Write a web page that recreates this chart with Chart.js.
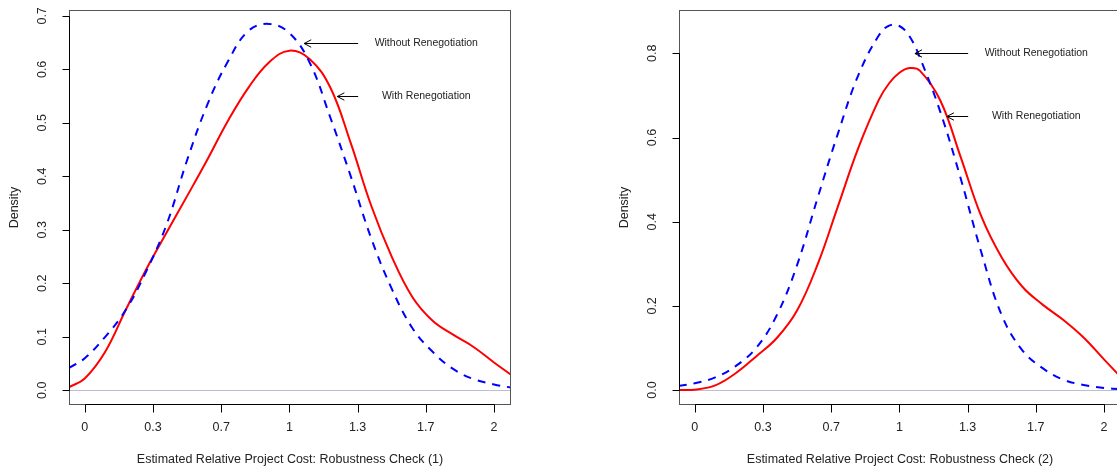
<!DOCTYPE html>
<html>
<head>
<meta charset="utf-8">
<script src="https://cdn.jsdelivr.net/npm/chart.js@4"></script>
<style>
  html, body { margin: 0; padding: 0; background: #fff; overflow: hidden; width: 1117px; height: 468px; }
  canvas { position: absolute; top: 0; }
  #c1 { left: 0; }
  #c2 { left: 558px; }
</style>
</head>
<body>
<canvas id="c1" width="558" height="468"></canvas>
<canvas id="c2" width="610" height="468"></canvas>
<script>
// values
const xs1 = [-0.076, 0, 0.1, 0.2, 0.3, 0.4, 0.5, 0.6, 0.7, 0.8, 0.9, 1.0, 1.1, 1.2, 1.3, 1.4, 1.5, 1.6, 1.7, 1.8, 1.9, 2.0, 2.083];
const with1 = [0.006, 0.022, 0.072, 0.15, 0.226, 0.295, 0.363, 0.432, 0.504, 0.566, 0.613, 0.635, 0.619, 0.566, 0.462, 0.345, 0.25, 0.175, 0.13, 0.104, 0.081, 0.052, 0.029];
const without1 = [0.042, 0.06, 0.1, 0.15, 0.222, 0.31, 0.43, 0.535, 0.615, 0.672, 0.685, 0.668, 0.612, 0.51, 0.40, 0.284, 0.19, 0.117, 0.072, 0.04, 0.021, 0.011, 0.005];

const xs2 = [-0.078, 0, 0.1, 0.2, 0.3, 0.4, 0.5, 0.6, 0.7, 0.8, 0.9, 0.95, 1.0, 1.05, 1.1, 1.2, 1.3, 1.4, 1.5, 1.6, 1.7, 1.8, 1.9, 2.0, 2.083];
const with2 = [0.0, 0.001, 0.011, 0.04, 0.08, 0.123, 0.189, 0.298, 0.437, 0.576, 0.69, 0.729, 0.754, 0.765, 0.759, 0.688, 0.553, 0.413, 0.315, 0.246, 0.203, 0.167, 0.125, 0.073, 0.03];
const without2 = [0.010, 0.016, 0.03, 0.057, 0.10, 0.177, 0.297, 0.456, 0.61, 0.749, 0.843, 0.866, 0.865, 0.84, 0.79, 0.661, 0.502, 0.328, 0.178, 0.095, 0.052, 0.025, 0.012, 0.005, 0.002];

const xTicks = [0, 1/3, 2/3, 1, 4/3, 5/3, 2];
const xTickLabels = ["0", "0.3", "0.7", "1", "1.3", "1.7", "2"];
const yTicks1 = [0, 0.1, 0.2, 0.3, 0.4, 0.5, 0.6, 0.7];
const yTicks2 = [0, 0.2, 0.4, 0.6, 0.8];

const FONT = '"Liberation Sans", Arial, Helvetica, sans-serif';

function pts(xs, ys) {
  return xs.map((x, i) => ({ x: x, y: ys[i] }));
}

// R-style base graphics: box, axes, zero line and arrow notes
const rStyle = {
  id: 'rStyle',
  beforeDatasetsDraw(chart) {
    const { ctx, chartArea: a, scales: { y } } = chart;
    const y0 = Math.round(y.getPixelForValue(0)) + 0.5;
    ctx.save();
    ctx.strokeStyle = '#b8c0d0';
    ctx.lineWidth = 1;
    ctx.beginPath();
    ctx.moveTo(a.left, y0);
    ctx.lineTo(a.right, y0);
    ctx.stroke();
    ctx.restore();
  },
  afterDraw(chart, args, o) {
    const { ctx, chartArea: a, scales: { x, y } } = chart;
    ctx.save();
    // box
    ctx.strokeStyle = '#555';
    ctx.lineWidth = 1;
    ctx.strokeRect(a.left + 0.5, a.top + 0.5, a.right - a.left - 1, a.bottom - a.top - 1);

    ctx.strokeStyle = '#000';
    ctx.fillStyle = '#222';
    // y axis
    const lx = a.left + 0.5;
    const yt = o.yTicks;
    ctx.beginPath();
    ctx.moveTo(lx, Math.round(y.getPixelForValue(yt[0])) + 0.5);
    ctx.lineTo(lx, Math.round(y.getPixelForValue(yt[yt.length - 1])) + 0.5);
    yt.forEach(v => {
      const py = Math.round(y.getPixelForValue(v)) + 0.5;
      ctx.moveTo(lx, py);
      ctx.lineTo(lx - 7, py);
    });
    ctx.stroke();
    ctx.font = '12.5px ' + FONT;
    ctx.textAlign = 'center';
    ctx.textBaseline = 'middle';
    yt.forEach(v => {
      const py = y.getPixelForValue(v);
      ctx.save();
      ctx.translate(a.left - 26, py);
      ctx.rotate(-Math.PI / 2);
      ctx.fillText(v.toFixed(1), 0, 0);
      ctx.restore();
    });
    ctx.save();
    ctx.translate(a.left - 54, (a.top + a.bottom) / 2);
    ctx.rotate(-Math.PI / 2);
    ctx.fillText('Density', 0, 0);
    ctx.restore();

    // x axis
    const by = a.bottom - 0.5;
    ctx.beginPath();
    ctx.moveTo(Math.round(x.getPixelForValue(xTicks[0])) + 0.5, by);
    ctx.lineTo(Math.round(x.getPixelForValue(xTicks[xTicks.length - 1])) + 0.5, by);
    xTicks.forEach(v => {
      const px = Math.round(x.getPixelForValue(v)) + 0.5;
      ctx.moveTo(px, by);
      ctx.lineTo(px, by + 8);
    });
    ctx.stroke();
    xTicks.forEach((v, i) => {
      ctx.fillText(xTickLabels[i], x.getPixelForValue(v), a.bottom + 23);
    });
    ctx.fillText(o.title, (a.left + a.right) / 2, a.bottom + 55);

    // arrows with notes
    ctx.font = '10.5px ' + FONT;
    o.notes.forEach(n => {
      const x1 = x.getPixelForValue(n.from), x2 = x.getPixelForValue(n.to);
      const py = Math.round(y.getPixelForValue(n.y)) + 0.5;
      const ang = Math.atan2(0, x2 - x1);
      const len = 8, spread = Math.PI / 6.5;
      ctx.beginPath();
      ctx.moveTo(x1, py);
      ctx.lineTo(x2, py);
      ctx.moveTo(x2 - len * Math.cos(ang - spread), py - len * Math.sin(ang - spread));
      ctx.lineTo(x2, py);
      ctx.lineTo(x2 - len * Math.cos(ang + spread), py - len * Math.sin(ang + spread));
      ctx.stroke();
      ctx.fillText(n.text, x.getPixelForValue(n.textX), py);
    });
    ctx.restore();
  }
};

function makeChart(id, xs, withVals, withoutVals, yMin, yMax, pad, opts) {
  return new Chart(document.getElementById(id), {
    type: 'line',
    data: {
      datasets: [
        {
          label: 'Without Renegotiation',
          data: pts(xs, withoutVals),
          borderColor: '#0000ff',
          borderWidth: 2,
          borderDash: [8, 7],
          pointRadius: 0,
          tension: 0.4,
          fill: false
        },
        {
          label: 'With Renegotiation',
          data: pts(xs, withVals),
          borderColor: '#ff0000',
          borderWidth: 2,
          pointRadius: 0,
          tension: 0.4,
          fill: false
        }
      ]
    },
    options: {
      responsive: false,
      animation: false,
      devicePixelRatio: 1,
      layout: { padding: pad },
      scales: {
        x: { type: 'linear', min: -0.077, max: 2.083, display: false },
        y: { type: 'linear', min: yMin, max: yMax, display: false }
      },
      plugins: {
        legend: { display: false },
        tooltip: { enabled: false },
        rStyle: opts
      }
    },
    plugins: [rStyle]
  });
}

makeChart('c1', xs1, with1, without1, -0.0275, 0.711,
  { left: 69, right: 47, top: 10, bottom: 63 },
  {
    yTicks: yTicks1,
    title: 'Estimated Relative Project Cost: Robustness Check (1)',
    notes: [
      { from: 1.336, to: 1.072, y: 0.65, text: 'Without Renegotiation', textX: 1.669 },
      { from: 1.336, to: 1.234, y: 0.55, text: 'With Renegotiation', textX: 1.669 }
    ]
  });

makeChart('c2', xs2, with2, without2, -0.0355, 0.903,
  { left: 121, right: 47, top: 10, bottom: 63 },
  {
    yTicks: yTicks2,
    title: 'Estimated Relative Project Cost: Robustness Check (2)',
    notes: [
      { from: 1.336, to: 1.076, y: 0.8, text: 'Without Renegotiation', textX: 1.669 },
      { from: 1.336, to: 1.232, y: 0.65, text: 'With Renegotiation', textX: 1.669 }
    ]
  });
</script>
</body>
</html>
